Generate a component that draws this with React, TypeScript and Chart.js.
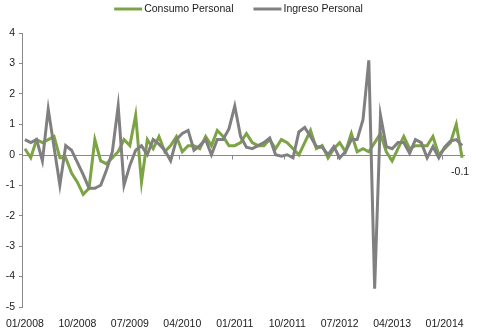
import React, { useEffect, useRef } from 'react';
import { Chart, registerables } from 'chart.js';
Chart.register(...registerables);

const START_YEAR = 2008;
const MONTH_COUNT = 76;
const CATEGORIES: string[] = [];
for (let i = 0; i < MONTH_COUNT; i++) {
  const m = (i % 12) + 1;
  const y = START_YEAR + Math.floor(i / 12);
  CATEGORIES.push(`${String(m).padStart(2, '0')}/${y}`);
}
const TICK_EVERY = 9;
const Y_MIN = -5;
const Y_MAX = 4;

const SERIES_NAMES = ['Consumo Personal', 'Ingreso Personal'];

const CONSUMO = [
  0.2, -0.1, 0.5, 0.4, 0.5, 0.6, -0.1, -0.1, -0.6, -0.9, -1.3, -1.1,
  0.5, -0.2, -0.3, -0.1, 0.1, 0.5, 0.3, 1.3, -0.9, 0.5, 0.2, 0.6,
  0.1, 0.3, 0.6, 0.1, 0.3, 0.3, 0.2, 0.6, 0.3, 0.8, 0.6, 0.3,
  0.3, 0.4, 0.7, 0.4, 0.3, 0.3, 0.5, 0.2, 0.5, 0.4, 0.2, 0.0,
  0.4, 0.8, 0.2, 0.3, -0.1, 0.2, 0.4, 0.1, 0.7, 0.1, 0.2, 0.1,
  0.4, 0.7, 0.1, -0.2, 0.2, 0.6, 0.2, 0.3, 0.3, 0.3, 0.6, 0.0,
  0.2, 0.4, 1.0, -0.1,
];

const INGRESO = [
  0.5, 0.4, 0.5, -0.2, 1.5, 0.25, -1.0, 0.3, 0.15, -0.25, -0.65, -1.1,
  -1.1, -1.0, -0.5, 0.1, 1.6, -1.0, -0.35, 0.15, 0.3, 0.0, 0.5, 0.35,
  0.15, -0.2, 0.5, 0.7, 0.8, 0.15, 0.3, 0.5, 0.0, 0.5, 0.5, 0.85,
  1.6, 0.6, 0.25, 0.2, 0.3, 0.4, 0.55, 0.0, -0.05, 0.0, -0.1, 0.75,
  0.9, 0.6, 0.27, 0.25, 0.0, 0.27, -0.1, 0.1, 0.5, 0.5, 1.15, 3.1,
  -4.4, 1.3, 0.27, 0.2, 0.4, 0.4, 0.05, 0.5, 0.4, -0.1, 0.27, -0.1,
  0.25, 0.45, 0.5, 0.3,
];

const LAST_POINT_LABEL = '-0.1';

const GREEN = '#7DA444';
const GRAY = '#808080';
const AXIS = '#888888';
const TEXT = '#1a1a1a';
const FONT_FAMILY = '"Liberation Sans", Arial, sans-serif';
const FONT_SIZE = 10.5;

const overlayPlugin = {
  id: 'overlay',
  beforeDatasetsDraw(chart: any) {
    const { ctx, chartArea, scales } = chart;
    const y0 = Math.round(scales.y.getPixelForValue(0)) + 0.5;
    ctx.save();
    ctx.strokeStyle = AXIS;
    ctx.lineWidth = 1;
    ctx.beginPath();
    ctx.moveTo(chartArea.left, y0);
    ctx.lineTo(chartArea.right, y0);
    const catW = (chartArea.right - chartArea.left) / CATEGORIES.length;
    for (let k = TICK_EVERY; k < CATEGORIES.length; k += TICK_EVERY) {
      const x = Math.round(chartArea.left + k * catW) + 0.5;
      ctx.moveTo(x, y0);
      ctx.lineTo(x, y0 + 4);
    }
    ctx.stroke();
    ctx.restore();
  },
  afterDraw(chart: any) {
    const { ctx, width } = chart;
    ctx.save();
    ctx.font = `${FONT_SIZE}px ${FONT_FAMILY}`;
    ctx.textBaseline = 'middle';
    const colors = [GREEN, GRAY];
    const lineW = 28;
    const gap = 2;
    const between = 20;
    const widths = SERIES_NAMES.map((n) => ctx.measureText(n).width);
    const total = widths.reduce((a, w) => a + lineW + gap + w, 0) + between * (SERIES_NAMES.length - 1);
    let x = (width - total) / 2;
    const yc = 9;
    SERIES_NAMES.forEach((n, i) => {
      ctx.strokeStyle = colors[i];
      ctx.lineWidth = 3;
      ctx.beginPath();
      ctx.moveTo(x, yc);
      ctx.lineTo(x + lineW, yc);
      ctx.stroke();
      ctx.fillStyle = TEXT;
      ctx.textAlign = 'left';
      ctx.fillText(n, x + lineW + gap, yc);
      x += lineW + gap + widths[i] + between;
    });
    const meta = chart.getDatasetMeta(0);
    const pt = meta.data[meta.data.length - 1];
    if (pt) {
      ctx.textAlign = 'center';
      ctx.fillText(LAST_POINT_LABEL, pt.x - 2, pt.y + 14);
    }
    ctx.restore();
  },
};

export default function App() {
  const ref = useRef<HTMLCanvasElement>(null);
  useEffect(() => {
    if (!ref.current) return;
    const chart = new Chart(ref.current, {
      type: 'line',
      data: {
        labels: CATEGORIES,
        datasets: [
          {
            label: SERIES_NAMES[0],
            data: CONSUMO,
            borderColor: GREEN,
            backgroundColor: GREEN,
            borderWidth: 3,
            pointRadius: 0,
            tension: 0,
            order: 1,
          },
          {
            label: SERIES_NAMES[1],
            data: INGRESO,
            borderColor: GRAY,
            backgroundColor: GRAY,
            borderWidth: 3,
            pointRadius: 0,
            tension: 0,
            order: 0,
          },
        ],
      },
      options: {
        responsive: false,
        animation: false,
        devicePixelRatio: 1,
        layout: { padding: { top: 33, right: 12, left: 0, bottom: 0 } },
        plugins: {
          legend: { display: false },
          tooltip: { enabled: false },
        },
        scales: {
          x: {
            type: 'category',
            offset: true,
            grid: { display: false },
            border: { display: false },
            ticks: {
              autoSkip: false,
              maxRotation: 0,
              minRotation: 0,
              padding: 3,
              color: TEXT,
              font: { family: FONT_FAMILY, size: FONT_SIZE },
              callback: (_v: any, i: number) => (i % TICK_EVERY === 0 ? CATEGORIES[i] : ''),
            },
            afterFit: (s: any) => {
              s.height = 26;
            },
          },
          y: {
            min: Y_MIN,
            max: Y_MAX,
            ticks: {
              stepSize: 1,
              padding: 4,
              color: TEXT,
              font: { family: FONT_FAMILY, size: FONT_SIZE },
            },
            grid: {
              drawOnChartArea: false,
              drawTicks: true,
              tickLength: 3,
              color: AXIS,
            },
            border: { display: true, color: AXIS, width: 1 },
            afterFit: (s: any) => {
              s.width = 22;
            },
          },
        },
      },
      plugins: [overlayPlugin],
    });
    return () => chart.destroy();
  }, []);
  return (
    <div style={{ position: 'absolute', left: 0, top: 0, width: 477, height: 333, background: '#fff' }}>
      <canvas ref={ref} width={477} height={333} />
    </div>
  );
}
